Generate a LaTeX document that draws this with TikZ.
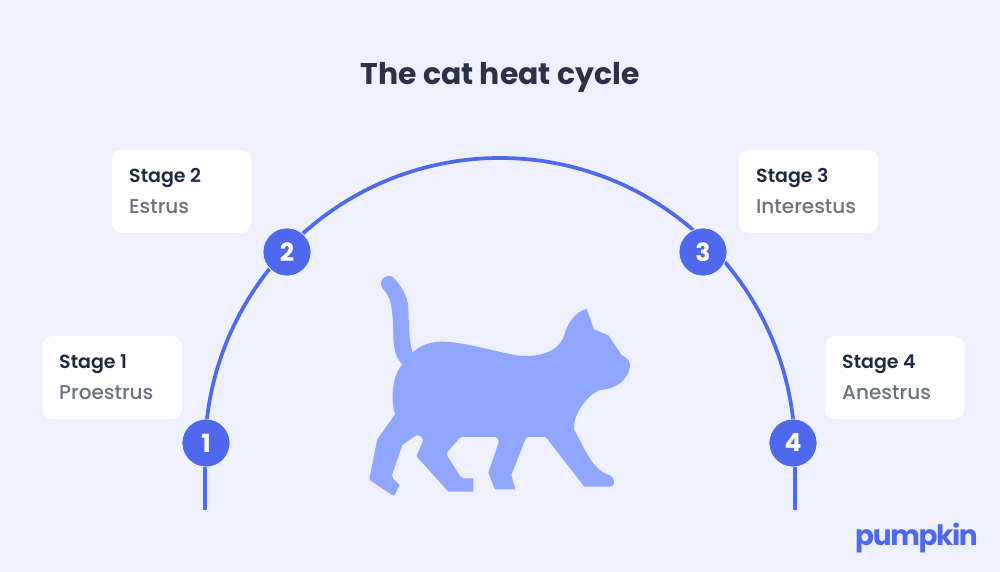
\documentclass[tikz,border=0pt]{standalone}
\usepackage{fontspec}
\setmainfont{Poppins}[BoldFont={Poppins SemiBold}]
\newfontfamily\medfont{Poppins Medium}
\newfontfamily\heavyfont{Poppins Bold}
\newfontfamily\logofont[LetterSpace=-5]{Poppins Bold}
\definecolor{bgc}{HTML}{EEF0FD}
\definecolor{linec}{HTML}{4F69EE}
\definecolor{catc}{HTML}{90A6FF}
\definecolor{darkc}{HTML}{1F2A44}
\definecolor{titlec}{HTML}{2B3248}
\definecolor{grayc}{HTML}{6B7280}
\tikzset{
  stagebox/.style={fill=white,rounded corners=10pt,minimum width=139.5pt,minimum height=83pt,inner sep=0pt},
  stagehead/.style={anchor=mid west,inner sep=0pt,text=darkc,font=\fontsize{19}{21}\selectfont\bfseries},
  stagename/.style={anchor=mid west,inner sep=0pt,text=grayc,font=\fontsize{20}{22}\medfont},
  numdot/.style={circle,fill=linec,draw=white,line width=0.6pt,minimum size=48pt,inner sep=0pt,text=white,font=\fontsize{25}{27}\heavyfont},
  arcline/.style={draw=linec,line width=3.7pt}
}
\begin{document}
\begin{tikzpicture}[x=1pt,y=1pt]
\fill[bgc] (0,0) rectangle (1000,572);
\useasboundingbox (0,0) rectangle (1000,572);
\node[inner sep=0pt,text=titlec,font=\fontsize{29.9}{32}\heavyfont] (title) at (500,495) {The cat heat cycle};
\coordinate (startL) at (205,62);
\coordinate (arcL) at (205,119);
\coordinate (endR) at (795,62);
\draw[arcline] (startL) -- (arcL) arc[start angle=180,end angle=0,radius=295] -- (endR);
\node[stagebox] (box1) at (112,194.5) {};
\node[stagebox] (box2) at (181.5,380.5) {};
\node[stagebox] (box3) at (808.5,380.5) {};
\node[stagebox] (box4) at (894.5,194.5) {};
\node[stagehead] (h1) at (59,206.5) {Stage 1};
\node[stagename] (n1) at (59,175.5) {Proestrus};
\node[stagehead] (h2) at (129,392.5) {Stage 2};
\node[stagename] (n2) at (129,361.5) {Estrus};
\node[stagehead] (h3) at (756,392.5) {Stage 3};
\node[stagename] (n3) at (756,361.5) {Interestus};
\node[stagehead] (h4) at (842,206.5) {Stage 4};
\node[stagename] (n4) at (842,175.5) {Anestrus};
\node[numdot] (d1) at (206,129) {1};
\node[numdot] (d2) at (287,320) {2};
\node[numdot] (d3) at (703,320) {3};
\node[numdot] (d4) at (793,129) {4};
\begin{scope}[shift={(350,312)},x=0.3333pt,y=-0.3333pt]
\fill[catc] (93,70) .. controls (93,55) and (105,48) .. (118,48)
 .. controls (125,48) and (130,52) .. (135,58)
 .. controls (165,92) and (175,120) .. (175,150)
 .. controls (177,170) and (175,240) .. (188,278)
 .. controls (210,255) and (240,245) .. (280,245)
 .. controls (340,247) and (420,270) .. (480,282)
 .. controls (500,287) and (515,288) .. (530,288)
 .. controls (600,288) and (635,255) .. (643,225)
 .. controls (655,180) and (685,152) .. (710,147)
 -- (732,208) -- (775,226) -- (815,285)
 .. controls (835,295) and (840,305) .. (840,320)
 .. controls (838,335) and (832,345) .. (828,350)
 .. controls (810,380) and (775,388) .. (750,390)
 .. controls (710,405) and (665,470) .. (673,510)
 .. controls (700,560) and (730,630) .. (770,642)
 .. controls (785,645) and (795,660) .. (792,670)
 .. controls (790,678) and (785,680) .. (780,680)
 -- (703,680) -- (592,537)
 .. controls (588,532) and (586,531) .. (582,531)
 -- (537,531) .. controls (530,531) and (528,534) .. (526,538)
 -- (484,645) -- (496,688) -- (435,688) -- (415,638) -- (445,550)
 .. controls (448,538) and (442,531) .. (433,531)
 -- (335,531) .. controls (331,531) and (330,533) .. (328,535)
 -- (293,575) .. controls (290,580) and (290,585) .. (293,589)
 -- (331,650) .. controls (333,654) and (336,655) .. (340,655)
 -- (370,655) -- (370,695) -- (295,695) -- (203,593)
 .. controls (200,590) and (200,587) .. (202,583)
 -- (218,545) .. controls (221,533) and (208,522) .. (197,527)
 -- (157,555) -- (126,645) .. controls (125,650) and (126,652) .. (129,655)
 -- (149,675) -- (135,703) .. controls (133,707) and (130,707) .. (126,705)
 -- (62,662) .. controls (58,660) and (58,657) .. (59,652)
 -- (82,538) -- (135,463)
 .. controls (122,420) and (125,350) .. (157,313)
 .. controls (135,290) and (130,260) .. (130,220)
 .. controls (128,150) and (125,110) .. (97,85)
 .. controls (95,80) and (93,75) .. (93,70) -- cycle;
\end{scope}
\node[inner sep=0pt,text=linec,font=\fontsize{28}{30}\logofont] (logo) at (916.5,33.5) {pumpkin};
\end{tikzpicture}
\end{document}
